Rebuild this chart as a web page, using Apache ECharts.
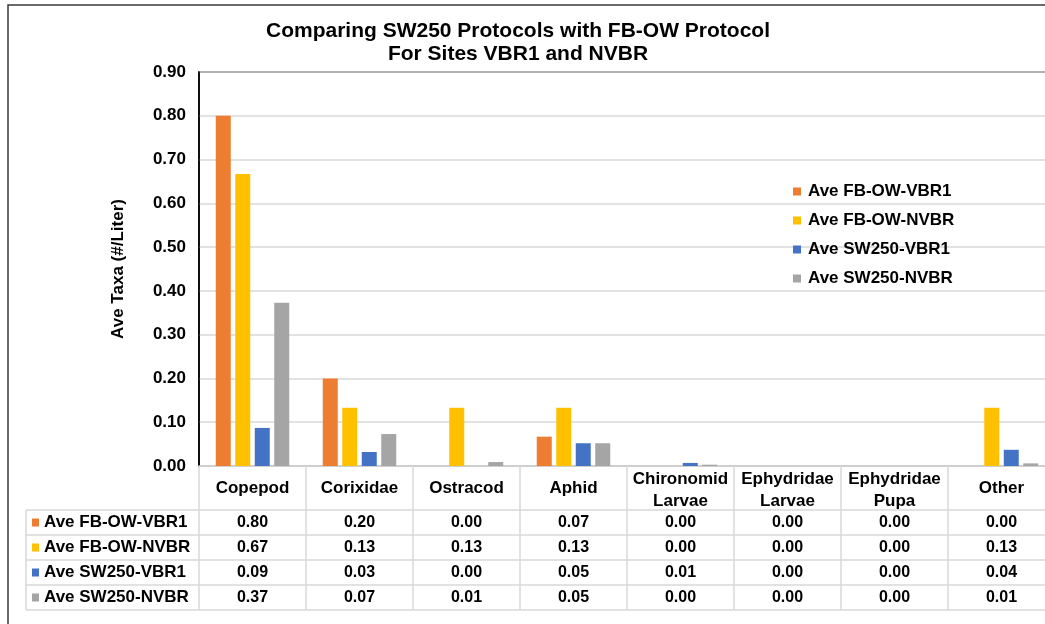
<!DOCTYPE html>
<html>
<head>
<meta charset="utf-8">
<script src="https://cdn.jsdelivr.net/npm/echarts@6/dist/echarts.min.js"></script>
<style>
html,body{margin:0;padding:0;background:#fff;}
#chart{width:1045px;height:624px;}
</style>
</head>
<body>
<div id="chart"></div>
<script>
// ---- data ----
const categories = ['Copepod', 'Corixidae', 'Ostracod', 'Aphid', 'Chironomid\nLarvae', 'Ephydridae\nLarvae', 'Ephydridae\nPupa', 'Other'];
const seriesNames = ['Ave FB-OW-VBR1', 'Ave FB-OW-NVBR', 'Ave SW250-VBR1', 'Ave SW250-NVBR'];
const fbowVBR1 = [0.80, 0.20, 0.00, 0.067, 0.00, 0.00, 0.00, 0.00];
const fbowNVBR = [0.667, 0.133, 0.133, 0.133, 0.00, 0.00, 0.00, 0.133];
const sw250VBR1 = [0.087, 0.032, 0.00, 0.052, 0.007, 0.00, 0.00, 0.037];
const sw250NVBR = [0.373, 0.073, 0.009, 0.052, 0.003, 0.00, 0.00, 0.006];
const yTicks = [0, 0.9, 0.1]; // min, max, interval
const titleText = 'Comparing SW250 Protocols with FB-OW Protocol\nFor Sites VBR1 and NVBR';
const yAxisName = 'Ave Taxa (#/Liter)';

const allSeries = [fbowVBR1, fbowNVBR, sw250VBR1, sw250NVBR];
const colors = ['#ED7D31', '#FFC000', '#4472C4', '#A5A5A5'];

const chart = echarts.init(document.getElementById('chart'));
const FONT = '"Liberation Sans", Arial, sans-serif';

function labelFor(name, idx) {
  let head;
  if (name.indexOf('\n') >= 0) {
    const parts = name.split('\n');
    head = '{h2a|' + parts[0] + '}\n{h2b|' + parts[1] + '}';
  } else {
    head = '{h1|' + name + '}';
  }
  const vals = allSeries.map(s => '{v|' + s[idx].toFixed(2) + '}');
  return head + '\n' + vals.join('\n');
}

// table row geometry (layout only)
const tableTop = 466, headH = 44, rowH = 25, tableLeft = 26, gridLeft = 199;
const graphics = [];
graphics.push({type:'rect', shape:{x:8, y:5, width:1100, height:700}, style:{fill:'none', stroke:'#3a3a3a', lineWidth:1.5}, z:100});
for (let r = 0; r <= 4; r++) {
  const y = tableTop + headH + r * rowH;
  graphics.push({type:'line', shape:{x1:tableLeft, y1:y, x2:1060, y2:y}, style:{stroke:'#d9d9d9', lineWidth:1.5}, z:1});
}
graphics.push({type:'line', shape:{x1:tableLeft, y1:tableTop+headH, x2:tableLeft, y2:tableTop+headH+4*rowH}, style:{stroke:'#d9d9d9', lineWidth:1.5}, z:1});
seriesNames.forEach((n, i) => {
  const cy = tableTop + headH + i * rowH + rowH / 2;
  graphics.push({type:'rect', shape:{x:32, y:cy-4, width:7, height:8}, style:{fill:colors[i]}, z:2});
  graphics.push({type:'text', x:44, y:cy, style:{text:n, font:'bold 17px ' + FONT, fill:'#000', textVerticalAlign:'middle', textAlign:'left'}, z:2});
});

const option = {
  animation: false,
  backgroundColor: '#fff',
  color: colors,
  title: {
    text: titleText,
    left: 513, textAlign: 'center', top: 15,
    textStyle: {fontFamily: FONT, fontWeight: 'bold', fontSize: 21, lineHeight: 23, color: '#000'}
  },
  legend: {
    orient: 'vertical', left: 788, top: 178, itemWidth: 8, itemHeight: 8, itemGap: 12,
    icon: 'rect', data: seriesNames,
    textStyle: {fontFamily: FONT, fontWeight: 'bold', fontSize: 17, color: '#000', padding:[0,0,0,2]}
  },
  grid: {left: gridLeft, top: 72, width: 856, bottom: 158, show: true, borderColor: '#000', borderWidth: 1.5,
         containLabel: false, outerBoundsMode: 'none'},
  xAxis: {
    type: 'category', data: categories,
    axisLine: {lineStyle: {color: '#d9d9d9', width: 1.5}},
    axisTick: {show: true, interval: 0, length: headH + 4*rowH, lineStyle: {color: '#d9d9d9', width: 1.5}},
    axisLabel: {
      interval: 0, margin: 0, hideOverlap: false,
      formatter: (v, i) => labelFor(v, i),
      rich: {
        h1: {fontFamily: FONT, fontWeight: 'bold', fontSize: 17, lineHeight: headH, color: '#000', align: 'center'},
        h2a: {fontFamily: FONT, fontWeight: 'bold', fontSize: 17, lineHeight: 26, color: '#000', align: 'center'},
        h2b: {fontFamily: FONT, fontWeight: 'bold', fontSize: 17, lineHeight: 18, color: '#000', align: 'center'},
        v: {fontFamily: FONT, fontWeight: 'bold', fontSize: 16, lineHeight: rowH, color: '#000', align: 'center'}
      }
    }
  },
  yAxis: {
    type: 'value', min: yTicks[0], max: yTicks[1], interval: yTicks[2],
    name: yAxisName, nameLocation: 'middle', nameGap: 72,
    nameTextStyle: {fontFamily: FONT, fontWeight: 'bold', fontSize: 17, color: '#000'},
    axisLine: {show: true, lineStyle: {color: '#000', width: 1.5}},
    axisTick: {show: false},
    axisLabel: {fontFamily: FONT, fontWeight: 'bold', fontSize: 17, color: '#000', margin: 13, formatter: v => v.toFixed(2)},
    splitLine: {lineStyle: {color: '#d9d9d9', width: 1.5}}
  },
  series: allSeries.map((d, i) => ({
    name: seriesNames[i], type: 'bar', data: d, barWidth: 15, barGap: '30%'
  })),
  graphic: graphics
};
chart.setOption(option);
</script>
</body>
</html>
